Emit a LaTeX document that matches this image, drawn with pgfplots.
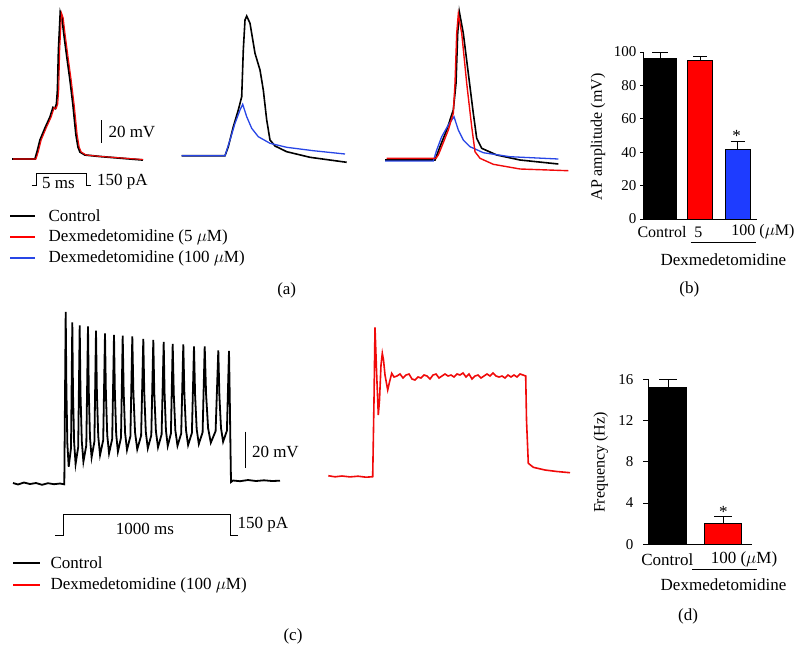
\documentclass[border=0pt]{standalone}
\usepackage{pgfplots}
\pgfplotsset{compat=1.18}
\usepackage{fontspec}
\setmainfont{Liberation Serif}
\definecolor{tred}{RGB}{240,10,10}
\definecolor{tblue}{RGB}{40,70,230}
\definecolor{bblue}{RGB}{30,60,255}
\newcommand{\lbl}{\fontsize{17}{20}\selectfont}
\newcommand{\sml}{\fontsize{16}{19}\selectfont}
\newcommand{\tck}{\fontsize{15}{18}\selectfont}

\begin{document}
\begin{tikzpicture}[font=\lbl]
\path[use as bounding box] (0,0) rectangle (799pt,648pt);
% full-size layer in pixel units for the traces, scale bars and captions
\begin{axis}[at={(0pt,0pt)}, anchor=south west, scale only axis,
    width=799pt, height=648pt, xmin=0, xmax=799, ymin=0, ymax=648,
    y dir=reverse, axis lines=none, clip=false]

% ---- (a) trace 1: control and 5 uM almost on top of each other
\addplot[black, line width=1.8pt] coordinates {
  (12,159) (35,159) (37,152) (40,140) (45,128) (50,117) (53,107.5) (55,108.5)
  (56.5,104) (57.5,90) (58.5,50) (60.3,12.5) (62,18) (64,35) (67,58) (70,80)
  (73,105) (76,135) (78,147) (80,152) (85,155) (100,156.5) (143,160)};
\addplot[tred, line width=1.1pt] coordinates {
  (13,159) (36,159) (38.2,152) (41.2,140) (46.2,128) (51.2,117) (54.2,107.5) (56.2,108.5)
  (57.7,104) (58.7,90) (59.7,50) (61.5,13) (63.2,18) (65.2,35) (68.2,58) (71.2,80)
  (74.2,105) (77.2,135) (79.2,147) (81.2,152) (86.2,155) (101,156.5) (143,159.5)};

% ---- (a) trace 2: control and 100 uM
\addplot[black, line width=1.6pt] coordinates {
  (181.7,155.7) (225,155.7) (228.3,146.7) (233.3,126.7) (238.3,110) (241.7,96.7)
  (243.3,50) (245,20) (246.7,16) (250,23.3) (255,53.3) (260,70) (263.3,90)
  (266.7,120) (270,140) (275,146) (286.7,151.7) (310,157.3) (346.7,162.3)};
\addplot[tblue, line width=1.3pt] coordinates {
  (181.7,155.7) (225,155.7) (230,140) (235,123.3) (240,110) (242.7,104.3)
  (246.7,116.7) (251.7,128.3) (258.3,136.7) (270,143.3) (286.7,147.3)
  (313.3,150.7) (345,154)};

% ---- (a) trace 3: all three
\addplot[black, line width=1.6pt] coordinates {
  (385,160) (435,160) (440,146.7) (446.7,130) (453.3,110) (456,83.3) (457.7,33.3)
  (459.3,11.7) (463.3,33.3) (468.3,73.3) (473.3,113.3) (476.7,138.3) (481.7,148.3)
  (496.7,155) (520,160) (558.3,164)};
\addplot[tblue, line width=1.3pt] coordinates {
  (385,161) (433.3,161) (436.7,150) (441.7,136.7) (448.3,125) (454,116.7)
  (458.3,130) (463.3,140) (470,146.7) (483.3,152.7) (510,156.7) (558.3,159)};
\addplot[tred, line width=1.4pt] coordinates {
  (386.7,158.3) (436,158.3) (438.3,155) (441.7,146.7) (448.3,130) (453.3,113.3)
  (455,83.3) (456.7,33.3) (458.3,14) (461.7,33.3) (466.7,83.3) (471.7,126.7)
  (475,151.7) (480,158.3) (493.3,164.3) (520,169) (568.3,170.7)};

% ---- (a) scale bars
\addplot[black, line width=0.9pt] coordinates {(101.7,120) (101.7,143.3)};
\node[anchor=west] at (axis cs:105,131.7) {20 mV};
\addplot[black, line width=0.9pt] coordinates {
  (31.7,185) (36,185) (36,173.3) (86,173.3) (86,185) (90.7,185)};
\node at (axis cs:58.5,183) {5 ms};
\node[anchor=west] at (axis cs:93.5,182) {150 pA};

% ---- (a) legend
\node[anchor=west] at (axis cs:45,216) {Control};
\node[anchor=west] at (axis cs:45,237.3) {Dexmedetomidine (5 $\mu$M)};
\node[anchor=west] at (axis cs:45,258.3) {Dexmedetomidine (100 $\mu$M)};
\addplot[black, line width=1.2pt] coordinates {(10,216) (35,216)};
\addplot[red, line width=1.8pt] coordinates {(10,237) (35,237)};
\addplot[tblue, line width=1.3pt] coordinates {(10,258) (35,258)};
\node at (axis cs:286.7,290) {(a)};

% ---- (c) control train
\addplot[black, line width=1.8pt] coordinates {
  (13,483) (18,484.5) (24,482.5) (30,484) (36,483) (42,484.8) (48,483.2) (54,484.2) (60,483.5) (64.3,484.3)
  (65.7,312)
  (66.4,389.4) (67.35,443.5) (68.7,466.7) (71.0,448.1) (72.3,322.3)
  (73.0,393.2) (74.15,442.7) (75.6,464) (78.2,447) (79.7,325.3)
  (80.5,393.5) (81.8,441.2) (83.4,461.7) (86.3,445.3) (88,326.3)
  (88.8,391.8) (90,437.7) (91.6,457.3) (94.4,441.6) (96,330.7)
  (96.9,392.9) (98.25,436.4) (100.05,455) (103.2,440.1) (105,333.3)
  (105.9,393.3) (107.25,435.3) (109.05,453.3) (112.2,438.9) (114,335)
  (114.9,393.4) (116.2,434.2) (117.9,451.7) (121,437.7) (122.7,335.7)
  (123.7,392.9) (125.1,432.9) (127,450) (130.4,436.3) (132.3,336.3)
  (133.4,392.8) (135.05,432.4) (137.25,449.3) (141.1,435.7) (143.3,339)
  (144.3,393.7) (145.8,431.9) (147.8,448.3) (151.3,435.2) (153.3,340)
  (154.3,393.7) (155.9,431.2) (158,447.3) (161.6,434.4) (163.7,342)
  (164.6,394) (165.95,430.4) (167.75,446) (170.9,433.5) (172.7,344)
  (173.8,394.9) (175.35,430.4) (177.5,445.7) (181.2,433.5) (183.3,344.3)
  (184.4,394.7) (186,429.9) (188.1,445) (191.9,432.9) (194,346.3)
  (195.1,395.2) (196.7,429.3) (198.8,444) (202.6,432.3) (204.7,346.3)
  (206.1,394.5) (208.1,428.2) (210.8,442.7) (215.6,431.1) (218.3,350.3)
  (219.4,396) (221,428) (223.1,441.7) (226.9,430.7) (229,351)
  (229.8,400) (230.5,450) (231,482) (233,480.5) (240,481.2) (248,480) (256,481) (264,480.3) (272,481) (280,480.7)};

% ---- (c) 100 uM
\addplot[tred, line width=1.6pt] coordinates {
  (328.3,475.7) (335,476.8) (342,476) (350,476.9) (358,476.2) (366,477.2) (372.7,476.7)
  (374,400) (375,327.3) (376.5,370) (378.3,415) (379.5,400) (381,365) (382.3,353.3)
  (383.5,360) (385,375) (387.7,390) (389.5,382) (391.7,373.3)
  (394,377) (397,376) (400,374) (403,378) (406,375) (409,374) (412,379) (415,380)
  (418,377) (421,378) (424,375) (427,376) (430,379) (433,375) (436,374) (439,378)
  (442,376) (445,374) (448,376) (451,375) (454,377) (457,374) (460,375) (463,373)
  (466,377) (469,374) (472,379) (475,376) (478,375) (481,378) (484,376) (487,374)
  (490,376) (493,373) (496,376) (499,377) (502,376) (505,378) (508,375) (511,377)
  (514,375) (517,377) (520,374) (523,375) (525.7,376)
  (526.5,420) (528.3,463.3) (533.3,467.3) (545,470) (557,471.5) (570,472.7)};

% ---- (c) scale bars
\addplot[black, line width=0.9pt] coordinates {(245,431.7) (245,468.3)};
\node[anchor=west] at (axis cs:248.5,451.7) {20 mV};
\addplot[black, line width=0.9pt] coordinates {
  (55,535) (63.3,535) (63.3,514) (230,514) (230,535) (238.3,535)};
\node at (axis cs:145,529) {1000 ms};
\node[anchor=west] at (axis cs:234,525) {150 pA};

% ---- (c) legend
\node[anchor=west] at (axis cs:47,562.7) {Control};
\node[anchor=west] at (axis cs:47,585) {Dexmedetomidine (100 $\mu$M)};
\addplot[black, line width=1.2pt] coordinates {(13,563) (40,563)};
\addplot[red, line width=1.8pt] coordinates {(13,585) (40,585)};
\node at (axis cs:293,636.7) {(c)};

% ---- captions of the bar charts
\node[rotate=90, font=\sml] at (axis cs:598,137) {AP amplitude (mV)};
\node[font=\sml] at (axis cs:662,232) {Control};
\node[font=\sml] at (axis cs:698.3,232) {5};
\node[font=\sml] at (axis cs:763,232) {100 ($\mu$M)};
\addplot[black, line width=0.7pt] coordinates {(690.7,242.7) (756,242.7)};
\node at (axis cs:723.3,259.3) {Dexmedetomidine};
\node at (axis cs:689.3,289.3) {(b)};
\node[anchor=base] at (axis cs:736.7,141.5) {*};

\node[rotate=90, font=\sml] at (axis cs:600.7,462.5) {Frequency (Hz)};
\node at (axis cs:667.3,559.3) {Control};
\node at (axis cs:744,559.3) {100 ($\mu$M)};
\addplot[black, line width=0.7pt] coordinates {(692,569) (757,569)};
\node at (axis cs:723.5,584.7) {Dexmedetomidine};
\node at (axis cs:688,616.7) {(d)};
\node[anchor=base] at (axis cs:723.3,517) {*};
\end{axis}

% ---- (b) AP amplitude
\begin{axis}[at={(643pt,429pt)}, anchor=south west, scale only axis,
    width=114pt, height=167pt, xmin=0, xmax=114, ymin=0, ymax=100,
    axis x line=bottom, axis y line=left, axis line style={-, line width=0.9pt},
    xtick=\empty, ytick={0,20,...,100}, tick align=outside, major tick length=3pt,
    tick style={black, line width=0.9pt},
    /pgf/number format/assume math mode=true,
    yticklabel style={font=\tck}, clip=false]
\addplot[ybar, bar width=33pt, fill=black, draw=black,
  error bars/.cd, y dir=plus, y explicit, error mark=|,
  error bar style={black, line width=1pt}, error mark options={black, mark size=8pt, line width=1pt}]
  coordinates {(17,96.2) +- (0,3.2)};
\addplot[ybar, bar width=25pt, fill=red, draw=black, line width=0.6pt,
  error bars/.cd, y dir=plus, y explicit, error mark=|,
  error bar style={black, line width=1pt}, error mark options={black, mark size=7pt, line width=1pt}]
  coordinates {(57,94.8) +- (0,2.4)};
\addplot[ybar, bar width=25pt, fill=bblue, draw=black, line width=0.6pt,
  error bars/.cd, y dir=plus, y explicit, error mark=|,
  error bar style={black, line width=1pt}, error mark options={black, mark size=7pt, line width=1pt}]
  coordinates {(94.5,41.9) +- (0,4.4)};
\end{axis}

% ---- (d) frequency
\begin{axis}[at={(648pt,103.7pt)}, anchor=south west, scale only axis,
    width=104pt, height=165pt, xmin=0, xmax=104, ymin=0, ymax=16,
    axis x line=bottom, axis y line=left, axis line style={-, line width=0.9pt},
    xtick=\empty, ytick={0,4,...,16}, tick align=outside, major tick length=5pt,
    tick style={black, line width=0.9pt},
    /pgf/number format/assume math mode=true,
    yticklabel style={font=\tck, xshift=-6pt}, clip=false]
\addplot[ybar, bar width=37pt, fill=black, draw=black,
  error bars/.cd, y dir=plus, y explicit, error mark=|,
  error bar style={black, line width=1pt}, error mark options={black, mark size=9pt, line width=1pt}]
  coordinates {(20,15.2) +- (0,0.8)};
\addplot[ybar, bar width=37pt, fill=red, draw=black, line width=0.6pt,
  error bars/.cd, y dir=plus, y explicit, error mark=|,
  error bar style={black, line width=1pt}, error mark options={black, mark size=9pt, line width=1pt}]
  coordinates {(75,2.04) +- (0,0.61)};
\end{axis}
\end{tikzpicture}
\end{document}
